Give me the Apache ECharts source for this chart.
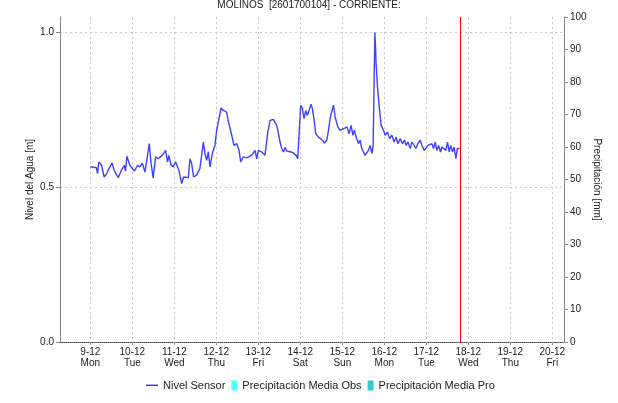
<!DOCTYPE html>
<html>
<head>
<meta charset="utf-8">
<script src="https://cdn.jsdelivr.net/npm/echarts@6/dist/echarts.min.js"></script>
<style>
html, body { margin: 0; padding: 0; background: #fff; }
#chart { width: 618px; height: 403px; }
</style>
</head>
<body>
<div id="chart"></div>
<script>
// horas desde el 9-12 00:00
const hours = [
    0.0, 3.5, 4.1, 4.9, 6.4, 7.9, 9.3, 11.2, 12.5, 13.6,
    15.9, 17.8, 19.4, 20.1, 20.9, 22.6, 23.6, 25.1, 27.0, 28.3,
    29.7, 31.2, 32.3, 33.7, 34.6, 35.9, 37.3, 38.8, 41.1, 43.0,
    44.1, 44.9, 46.1, 47.4, 48.7, 50.6, 52.2, 53.3, 56.0, 56.9,
    57.9, 59.0, 60.7, 62.6, 64.6, 65.5, 66.5, 67.4, 68.4, 69.7,
    71.2, 72.2, 73.1, 74.7, 76.0, 76.9, 77.9, 78.9, 80.8, 82.1,
    83.6, 85.0, 85.9, 87.4, 89.3, 92.2, 94.1, 95.1, 96.0, 97.9,
    99.8, 101.4, 102.7, 104.6,
    105.6, 106.5, 107.5, 108.4, 109.4, 110.3, 111.3, 112.2, 113.2, 114.7,
    116.0, 117.6, 118.5, 119.3, 120.2, 121.2, 122.1, 123.1, 124.0, 125.0,
    126.1, 126.9, 127.9, 128.8, 130.3, 132.3, 133.8, 135.1, 136.1, 137.0,
    138.4, 138.9, 139.9, 141.4, 142.7, 144.7, 146.6, 147.9, 149.0, 150.0,
    150.9, 151.9, 153.2, 154.2, 155.1, 157.0, 158.0, 158.9, 159.9, 160.9,
    161.6, 162.6, 162.9, 163.3, 164.1, 165.1, 166.2,
    167.5, 168.5, 169.8, 171.0, 172.3, 173.6, 174.8, 175.7, 177.1, 178.4,
    179.5, 180.5, 181.5, 182.8, 183.7, 185.1, 186.0, 187.2, 188.5, 189.5,
    190.8, 191.9, 192.9, 193.8, 195.2, 196.1, 197.1, 198.0, 199.0, 200.1,
    200.9, 202.0, 203.2, 204.1, 205.1, 206.0, 207.0, 207.9, 208.9, 209.7,
    210.4, 211.0
]
// Nivel Sensor [m]
const nivel = [
    0.566, 0.563, 0.544, 0.582, 0.571, 0.533, 0.544, 0.566, 0.578, 0.555,
    0.531, 0.555, 0.571, 0.552, 0.600, 0.571, 0.576, 0.552, 0.571, 0.566,
    0.578, 0.549, 0.549, 0.641, 0.582, 0.530, 0.598, 0.592, 0.603, 0.619,
    0.582, 0.603, 0.571, 0.566, 0.582, 0.555, 0.512, 0.533, 0.531, 0.592,
    0.576, 0.533, 0.539, 0.560, 0.646, 0.609, 0.587, 0.614, 0.566, 0.609,
    0.635, 0.684, 0.678, 0.756, 0.748, 0.754, 0.743, 0.711, 0.668, 0.635,
    0.641, 0.619, 0.582, 0.598, 0.595, 0.603, 0.619, 0.592, 0.619, 0.614,
    0.603, 0.678, 0.716, 0.719,
    0.716, 0.700, 0.673, 0.646, 0.625, 0.614, 0.628, 0.617, 0.622, 0.614,
    0.611, 0.603, 0.592, 0.673, 0.765, 0.754, 0.722, 0.748, 0.732, 0.748,
    0.768, 0.754, 0.716, 0.673, 0.662, 0.654, 0.643, 0.652, 0.684, 0.722,
    0.754, 0.765, 0.727, 0.695, 0.684, 0.689, 0.695, 0.673, 0.700, 0.668,
    0.684, 0.662, 0.641, 0.652, 0.625, 0.603, 0.603, 0.619, 0.635, 0.609,
    0.635, 1.000, 0.963, 0.900, 0.824, 0.759, 0.700,
    0.684, 0.668, 0.678, 0.657, 0.668, 0.646, 0.662, 0.641, 0.657, 0.641,
    0.652, 0.635, 0.646, 0.625, 0.646, 0.635, 0.625, 0.641, 0.652, 0.635,
    0.619, 0.625, 0.635, 0.630, 0.641, 0.625, 0.646, 0.619, 0.635, 0.614,
    0.630, 0.635, 0.619, 0.646, 0.614, 0.635, 0.614, 0.630, 0.592, 0.625,
    0.619, 0.625
]
// precipitacion: sin datos en el periodo
const precObs = []
const precPro = []

const xDates = ['9-12', '10-12', '11-12', '12-12', '13-12', '14-12', '15-12', '16-12', '17-12', '18-12', '19-12', '20-12']
const xDays = ['Mon', 'Tue', 'Wed', 'Thu', 'Fri', 'Sat', 'Sun', 'Mon', 'Tue', 'Wed', 'Thu', 'Fri']
const xTicks = xDates.map((d, i) => i * 24)
const yTicks = [0, 0.5, 1.0]

const xMinHour = -17.33
const xMaxHour = 270.67
const nowHour = 211.5

const levelData = hours.map((h, i) => [h, nivel[i]])

const chart = echarts.init(document.getElementById('chart'))
const font = 'Liberation Sans, Arial, sans-serif'
const red = '#ff0000'
const blue = '#4040ff'

const option = {
    animation: false,
    textStyle: { fontFamily: font },
    title: {
        text: 'MOLINOS  [2601700104] - CORRIENTE:',
        left: 'center',
        top: -5,
        textStyle: { fontSize: 10, fontWeight: 'normal', color: '#222', fontFamily: font }
    },
    legend: {
        left: 146,
        top: 380,
        padding: 0,
        itemWidth: 12,
        itemHeight: 10,
        itemGap: 0,
        textStyle: { fontSize: 11, color: '#222', fontFamily: font },
        data: [
            { name: 'Nivel Sensor', icon: 'path://M0,0M0,4H12V5.5H0ZM12,10', itemStyle: { color: blue } },
            { name: 'Precipitación Media Obs', icon: 'path://M0,0M6,0H12V10H6ZM12,10' },
            { name: 'Precipitación Media Pro', icon: 'path://M0,0M6,0H12V10H6ZM12,10' }
        ]
    },
    grid: { left: 60, right: 54, top: 17, bottom: 61 },
    xAxis: {
        type: 'value',
        min: xMinHour,
        max: xMaxHour,
        axisLine: { show: true, onZero: false, lineStyle: { color: '#444', type: 'dotted', width: 1 } },
        axisTick: { show: true, length: 3, customValues: xTicks, lineStyle: { color: '#999' } },
        axisLabel: {
            customValues: xTicks,
            fontSize: 10,
            color: '#222',
            lineHeight: 11,
            margin: 5,
            formatter: function (val) {
                const i = Math.round(val / 24)
                return xDates[i] + '\n' + xDays[i]
            }
        },
        splitLine: { show: true, lineStyle: { color: '#c8c8c8', type: [2, 3] } }
    },
    yAxis: [
        {
            type: 'value',
            position: 'left',
            min: 0,
            max: 1.05,
            name: 'Nivel del Agua [m]',
            nameLocation: 'middle',
            nameGap: 25,
            nameMoveOverlap: false,
            nameTextStyle: { fontSize: 10, color: '#222' },
            axisLine: { show: true, onZero: false, lineStyle: { color: '#888' } },
            axisTick: { show: true, length: 4, customValues: yTicks, lineStyle: { color: '#888' } },
            axisLabel: { customValues: yTicks, fontSize: 10, color: '#222', margin: 6, formatter: v => v.toFixed(1) },
            splitLine: { show: true, lineStyle: { color: '#c8c8c8', type: [2, 3] } }
        },
        {
            type: 'value',
            position: 'right',
            min: 0,
            max: 100,
            interval: 10,
            name: 'Precipitación [mm]',
            nameLocation: 'middle',
            nameRotate: -90,
            nameGap: 28,
            nameMoveOverlap: false,
            nameTextStyle: { fontSize: 10, color: '#222' },
            axisLine: { show: true, onZero: false, lineStyle: { color: '#888' } },
            axisTick: { show: true, length: 4, lineStyle: { color: '#888' } },
            axisLabel: { fontSize: 10, color: '#222', margin: 6 },
            splitLine: { show: false }
        }
    ],
    series: [
        {
            name: 'Nivel Sensor',
            type: 'line',
            data: levelData,
            symbol: 'none',
            color: blue,
            lineStyle: { color: blue, width: 1.4 },
            itemStyle: { color: blue },
            markLine: {
                silent: true,
                symbol: ['none', 'none'],
                label: { show: false },
                emphasis: { disabled: true },
                lineStyle: { color: red, type: 'solid', width: 1, opacity: 1 },
                data: [{ xAxis: nowHour }]
            }
        },
        {
            name: 'Precipitación Media Obs',
            type: 'bar',
            yAxisIndex: 1,
            data: precObs,
            itemStyle: { color: '#55ffff' }
        },
        {
            name: 'Precipitación Media Pro',
            type: 'bar',
            yAxisIndex: 1,
            data: precPro,
            itemStyle: { color: '#33cccc' }
        }
    ]
}
chart.setOption(option)
</script>
</body>
</html>
